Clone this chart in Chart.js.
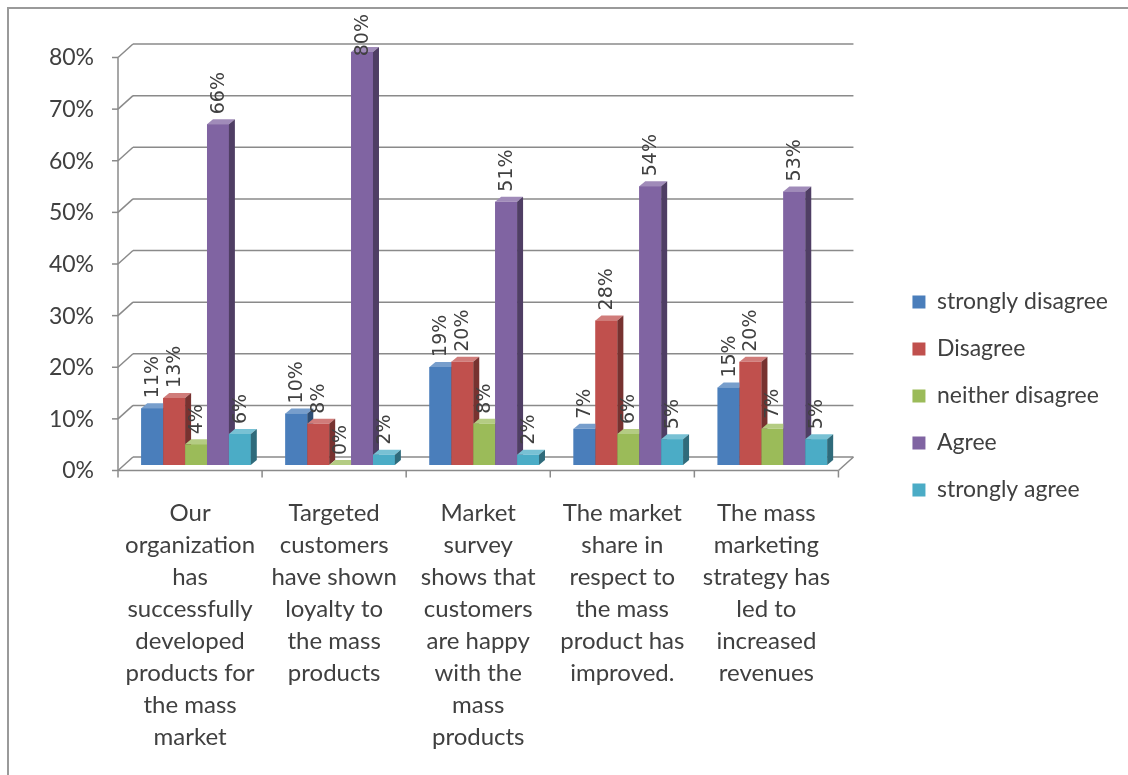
<!DOCTYPE html>
<html>
<head>
<meta charset="utf-8">
<title>Mass marketing survey</title>
<script src="https://cdn.jsdelivr.net/npm/chart.js@4.4.1/dist/chart.umd.min.js"></script>
<style>
  html, body { margin: 0; padding: 0; background: #fff; }
  canvas { display: block; }
</style>
</head>
<body>
<canvas id="chart" width="1128" height="775"></canvas>
<script>
// survey answers per statement, in percent
const categories = [
    ['Our', 'organization', 'has', 'successfully', 'developed', 'products for', 'the mass', 'market'],
    ['Targeted', 'customers', 'have shown', 'loyalty to', 'the mass', 'products'],
    ['Market', 'survey', 'shows that', 'customers', 'are happy', 'with the', 'mass', 'products'],
    ['The market', 'share in', 'respect to', 'the mass', 'product has', 'improved.'],
    ['The mass', 'marketing', 'strategy has', 'led to', 'increased', 'revenues']
];
const seriesNames = ['strongly disagree', 'Disagree', 'neither disagree', 'Agree', 'strongly agree'];
const stronglyDisagree = [11, 10, 19, 7, 15];
const disagree = [13, 8, 20, 28, 20];
const neitherDisagree = [4, 0, 8, 6, 7];
const agree = [66, 80, 51, 54, 53];
const stronglyAgree = [6, 2, 2, 5, 5];
const yMax = 80;
const yStep = 10;

const colors = ['#4A7EBB', '#C0504D', '#9BBB59', '#8064A2', '#4BACC6'];
const seriesValues = [stronglyDisagree, disagree, neitherDisagree, agree, stronglyAgree];

// 3d depth of the bars and of the walls (relative to the bar plane)
const DEPTH = { dx: 6, dy: -5 };
const FRONT = { dx: -6, dy: 5.5 };
const BACK = { dx: 9, dy: -8 };
const LINE = '#8a8a8a';
const TEXT = '#404040';

function shade(hex, f) {
    const n = parseInt(hex.slice(1), 16);
    let r = (n >> 16) & 255, g = (n >> 8) & 255, b = n & 255;
    if (f < 1) { r *= f; g *= f; b *= f; }
    else { r += (255 - r) * (f - 1); g += (255 - g) * (f - 1); b += (255 - b) * (f - 1); }
    return `rgb(${Math.round(r)},${Math.round(g)},${Math.round(b)})`;
}

function line(ctx, x1, y1, x2, y2) {
    ctx.beginPath();
    ctx.moveTo(x1, y1);
    ctx.lineTo(x2, y2);
    ctx.stroke();
}

function poly(ctx, pts, fill) {
    ctx.beginPath();
    ctx.moveTo(pts[0][0], pts[0][1]);
    for (let i = 1; i < pts.length; i++) ctx.lineTo(pts[i][0], pts[i][1]);
    ctx.closePath();
    ctx.fillStyle = fill;
    ctx.fill();
}

// outer frame, floor, walls, 3d bar faces and value labels
const wallsPlugin = {
    id: 'walls',
    beforeDraw(chart) {
        const ctx = chart.ctx;
        ctx.save();
        ctx.strokeStyle = '#9a9a9a';
        ctx.lineWidth = 2;
        ctx.strokeRect(8, 8, chart.width + 50, chart.height + 50);
        ctx.restore();
    },
    beforeDatasetsDraw(chart) {
        const ctx = chart.ctx;
        const { left, right } = chart.chartArea;
        const y = chart.scales.y;
        const x = chart.scales.x;
        ctx.save();
        ctx.strokeStyle = LINE;
        ctx.lineWidth = 1.5;
        for (let v = 0; v <= yMax; v += yStep) {
            const py = y.getPixelForValue(v);
            // back wall gridline
            line(ctx, left + BACK.dx, py + BACK.dy, right + BACK.dx, py + BACK.dy);
            // side wall
            line(ctx, left + FRONT.dx, py + FRONT.dy, left + BACK.dx, py + BACK.dy);
            // tick mark on the value axis
            line(ctx, left + FRONT.dx - 6, py + FRONT.dy, left + FRONT.dx, py + FRONT.dy);
        }
        const y0 = y.getPixelForValue(0);
        const yTop = y.getPixelForValue(yMax);
        line(ctx, left + FRONT.dx, yTop + FRONT.dy, left + FRONT.dx, y0 + FRONT.dy);
        // floor front edge and right corner
        line(ctx, left + FRONT.dx, y0 + FRONT.dy, right + FRONT.dx, y0 + FRONT.dy);
        line(ctx, right + FRONT.dx, y0 + FRONT.dy, right + BACK.dx, y0 + BACK.dy);
        const catW = (right - left) / categories.length;
        for (let i = 0; i <= categories.length; i++) {
            const px = (i < categories.length ? x.getPixelForValue(i) - catW / 2 : right) + FRONT.dx;
            line(ctx, px, y0 + FRONT.dy, px, y0 + FRONT.dy + 7);
        }
        ctx.restore();
    },
    afterDatasetsDraw(chart) {
        const ctx = chart.ctx;
        const metas = chart.data.datasets.map((ds, i) => chart.getDatasetMeta(i));
        // redraw each cluster left to right so a bar covers its neighbour's side
        ctx.save();
        categories.forEach((c, j) => {
            metas.forEach((meta, i) => {
                const bar = meta.data[j];
                const { x, y, base: b, width } = bar.getProps(['x', 'y', 'base', 'width'], true);
                const l = x - width / 2, r = x + width / 2;
                bar.draw(ctx);
                poly(ctx, [[l, y], [l + DEPTH.dx, y + DEPTH.dy], [r + DEPTH.dx, y + DEPTH.dy], [r, y]], shade(colors[i], 1.25));
                poly(ctx, [[r, y], [r + DEPTH.dx, y + DEPTH.dy], [r + DEPTH.dx, b + DEPTH.dy], [r, b]], shade(colors[i], 0.62));
            });
        });
        ctx.font = '19px "DejaVu Sans"';
        ctx.fillStyle = TEXT;
        ctx.textAlign = 'left';
        ctx.textBaseline = 'middle';
        chart.data.datasets.forEach((ds, i) => {
            metas[i].data.forEach((bar, j) => {
                const text = ds.data[j] + '%';
                const tw = ctx.measureText(text).width;
                let start = bar.y - 10;
                if (start - tw < 14) start = 14 + tw;
                ctx.save();
                ctx.translate(bar.x + 1, start);
                ctx.rotate(-Math.PI / 2);
                ctx.fillText(text, 0, 0);
                ctx.restore();
            });
        });
        ctx.restore();
    }
};

const datasets = seriesNames.map((name, i) => ({
    label: name,
    data: seriesValues[i],
    backgroundColor: colors[i],
    borderWidth: 0
}));

new Chart(document.getElementById('chart'), {
    type: 'bar',
    data: { labels: categories, datasets },
    options: {
        responsive: false,
        animation: false,
        layout: { padding: { top: 17, bottom: 0, left: 0, right: 10 } },
        datasets: { bar: { categoryPercentage: 0.76, barPercentage: 1.0 } },
        scales: {
            x: {
                grid: { display: false },
                border: { display: false },
                afterFit: s => { s.height = 310; },
                ticks: {
                    autoSkip: false,
                    maxRotation: 0,
                    padding: 24,
                    labelOffset: -6,
                    color: TEXT,
                    font: { family: 'Lato', size: 24, lineHeight: 1.333 }
                }
            },
            y: {
                min: 0,
                max: yMax,
                grid: { display: false },
                border: { display: false },
                afterFit: s => { s.width = 124; s.paddingTop = 52; },
                ticks: {
                    stepSize: yStep,
                    padding: 22,
                    labelOffset: 6,
                    color: TEXT,
                    font: { family: 'Lato', size: 23 },
                    callback: v => v + '%'
                }
            },
            // keeps a gap between the floor and the legend
            gap: {
                type: 'linear',
                position: 'right',
                display: false,
                afterFit: s => { s.width = 44; }
            }
        },
        plugins: {
            tooltip: { enabled: false },
            legend: {
                position: 'right',
                labels: {
                    boxWidth: 13,
                    boxHeight: 13,
                    padding: 24,
                    color: TEXT,
                    font: { family: 'Lato', size: 23 }
                }
            }
        }
    },
    plugins: [wallsPlugin]
});
</script>
</body>
</html>
